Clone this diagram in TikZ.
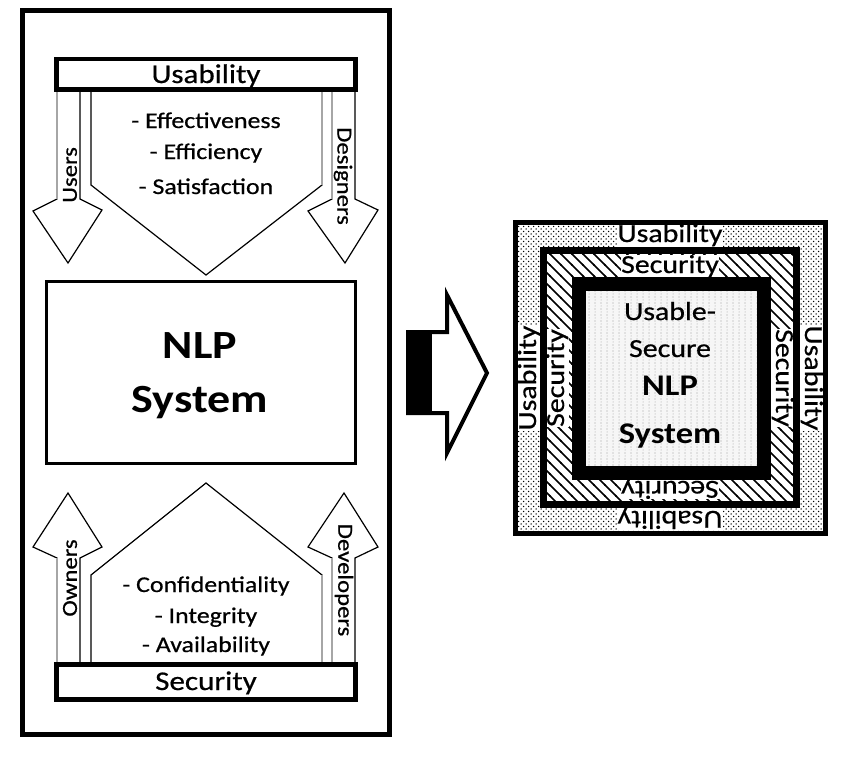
\documentclass[tikz,border=0pt]{standalone}
\usepackage{fontspec}
\setmainfont{Carlito}[FakeStretch=1.15]
\newfontfamily\regf{Carlito}[FakeStretch=1.15, FakeBold=0.6]
\usetikzlibrary{patterns}
\pgfdeclarepatternformonly{mydots}{\pgfqpoint{-1pt}{-1pt}}{\pgfqpoint{6pt}{6pt}}{\pgfqpoint{5pt}{5pt}}{%
  \pgfpathcircle{\pgfqpoint{1pt}{1pt}}{0.75pt}%
  \pgfpathcircle{\pgfqpoint{3.5pt}{3.5pt}}{0.75pt}%
  \pgfusepath{fill}}
\pgfdeclarepatternformonly{mygrid}{\pgfqpoint{-1pt}{-1pt}}{\pgfqpoint{7pt}{7pt}}{\pgfqpoint{6pt}{6pt}}{%
  \pgfpathcircle{\pgfqpoint{1pt}{1pt}}{0.6pt}%
  \pgfpathcircle{\pgfqpoint{1pt}{4pt}}{0.5pt}%
  \pgfusepath{fill}}
\pgfdeclarepatternformonly{myhatch}{\pgfqpoint{-1pt}{-1pt}}{\pgfqpoint{12pt}{12pt}}{\pgfqpoint{11pt}{11pt}}{%
  \pgfsetlinewidth{1.5pt}%
  \pgfpathmoveto{\pgfqpoint{-1pt}{12pt}}\pgfpathlineto{\pgfqpoint{12pt}{-1pt}}%
  \pgfusepath{stroke}}
\begin{document}
\begin{tikzpicture}[x=1pt,y=-1pt,
  outl/.style={draw=black, line width=1.2pt, line join=miter},
  shade/.style={draw=gray!70, line width=2.6pt},
  ttl/.style={font=\regf\fontsize{27}{30}\selectfont, anchor=base, inner sep=0pt},
  item/.style={font=\regf\fontsize{22.5}{26}\selectfont, anchor=base, inner sep=0pt},
  side/.style={font=\regf\fontsize{21.5}{26}\selectfont, inner sep=0pt},
  big/.style={font=\bfseries\fontsize{40}{44}\selectfont, anchor=base, inner sep=0pt},
  ring/.style={font=\regf\fontsize{26}{30}\selectfont, anchor=base, inner sep=0.5pt, fill=white},
  core/.style={font=\regf\fontsize{26}{30}\selectfont, anchor=base, inner sep=0pt},
  corebf/.style={font=\bfseries\fontsize{30}{34}\selectfont, anchor=base, inner sep=0pt}]
\useasboundingbox (0,0) rectangle (850,760);
\fill[white] (0,0) rectangle (850,760);

% ---------- left panel ----------
\draw[line width=5pt] (22.5,10.5) rectangle (389.5,734.5);

% top arrows
\draw[outl] (57,91) -- (57,199) -- (33,211) -- (68,263) -- (102,210) -- (80,199) -- (80,91);
\draw[outl] (91,91) -- (91,185) -- (206,275) -- (322,185) -- (322,91);
\draw[outl] (332,91) -- (332,199) -- (308,211) -- (345,263) -- (378,210) -- (355,199) -- (355,91);
\draw[shade] (57,91) -- (57,199);
\draw[shade] (332,91) -- (332,199);
\draw[draw=gray!70, line width=1.6pt] (322,91) -- (322,185);

% bottom arrows
\draw[outl] (57,664) -- (57,558) -- (33,547) -- (68,493) -- (102,547) -- (80,558) -- (80,664);
\draw[outl] (91,664) -- (91,575) -- (206,483) -- (322,575) -- (322,664);
\draw[outl] (332,664) -- (332,558) -- (308,547) -- (344,493) -- (378,547) -- (355,558) -- (355,664);
\draw[shade] (57,664) -- (57,558);
\draw[shade] (332,664) -- (332,558);
\draw[draw=gray!70, line width=1.6pt] (322,664) -- (322,575);

% bars
\draw[line width=4.5pt, fill=white] (56.5,59) rectangle (355.5,89.5);
\draw[line width=4.5pt, fill=white] (56.5,664.5) rectangle (355.5,699.5);
\node[ttl] (usab) at (206,83) {Usability};
\node[ttl] (secu) at (206,690) {Security};

% NLP box
\draw[line width=3pt] (46,281) rectangle (355,463);
\node[big] (nlp) at (200,358) {NLP};
\node[big] (sys) at (200,412) {System};

% lists
\node[item] (eff) at (206,128) {- Effectiveness};
\node[item] (efc) at (206,159) {- Efficiency};
\node[item] (sat) at (206,194) {- Satisfaction};
\node[item] (con) at (206,592) {- Confidentiality};
\node[item] (int) at (206,623) {- Integrity};
\node[item] (ava) at (206,652) {- Availability};

% rotated labels
\node[side, rotate=90] (users) at (70,175) {Users};
\node[side, rotate=-90] (desig) at (343,176) {Designers};
\node[side, rotate=90] (owners) at (70,578) {Owners};
\node[side, rotate=-90] (devel) at (344,580) {Developers};

% ---------- middle arrow ----------
\fill[black] (408,332) rectangle (432,413);
\draw[line width=4pt, line join=miter] (408,332) -- (447,332) -- (447,295) -- (487,373) -- (447,453) -- (447,413) -- (408,413) -- cycle;

% ---------- right panel ----------
\path[fill=white] (515.5,222.5) rectangle (825.5,533.5);
\path[pattern=mydots, pattern color=black] (515.5,222.5) rectangle (825.5,533.5);
\path[fill=white] (543.5,250.5) rectangle (796.5,504.5);
\path[pattern=myhatch, pattern color=black] (543.5,250.5) rectangle (796.5,504.5);
\path[fill=gray!7] (579,284) rectangle (764,473);
\path[pattern=mygrid, pattern color=gray!75] (579,284) rectangle (764,473);

% ring texts
\node[ring] (tu) at (670,242) {Usability};
\node[ring] (ts) at (670,273) {Security};
\node[ring, rotate=90] (lu) at (536,378) {Usability};
\node[ring, rotate=90] (ls) at (564,378) {Security};
\node[ring, rotate=-90] (rs) at (776,378) {Security};
\node[ring, rotate=-90] (ru) at (805,378) {Usability};
\node[ring, rotate=180] (bs) at (670,481) {Security};
\node[ring, rotate=180] (bu) at (670,511) {Usability};

% borders
\draw[line width=5pt] (515.5,222.5) rectangle (825.5,533.5);
\draw[line width=7pt] (543.5,250.5) rectangle (796.5,504.5);
\draw[line width=14pt] (579,284) rectangle (764,473);

% core text
\node[core] (c1) at (670,320) {Usable-};
\node[core] (c2) at (670,357) {Secure};
\node[corebf] (c3) at (670,395) {NLP};
\node[corebf] (c4) at (670,443) {System};
\end{tikzpicture}
\end{document}
